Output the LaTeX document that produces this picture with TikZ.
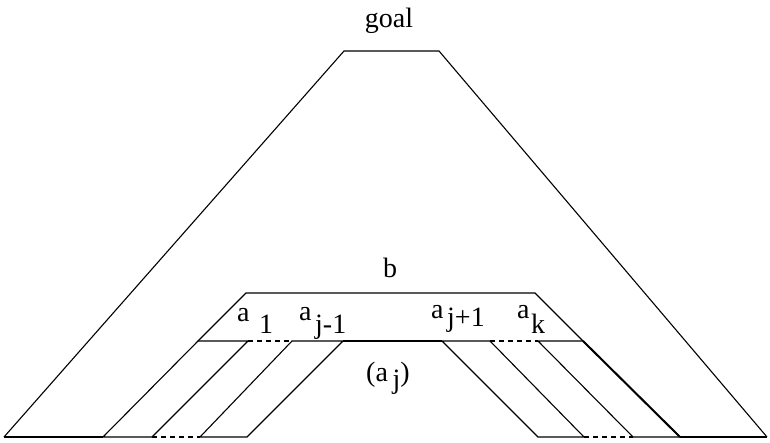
\documentclass[tikz,border=0pt]{standalone}
\usepackage{fontspec}
\setmainfont{Liberation Serif}
\begin{document}
\begin{tikzpicture}[x=1pt,y=-1pt,
  edge/.style={line width=1.1pt, line join=miter},
  dashedge/.style={line width=1.1pt, dash pattern=on 5pt off 4pt},
  boldedge/.style={line width=2pt},
  lbl/.style={inner sep=0pt, anchor=base west, font=\fontsize{28}{33}\selectfont},
  lbla/.style={inner sep=0pt, anchor=base west, font=\fontsize{28}{33}\selectfont}]
\useasboundingbox (0,0) rectangle (770,443);
% outer tree
\coordinate (o1) at (4,437);
\coordinate (o2) at (344,51);
\coordinate (o3) at (439,51);
\coordinate (o4) at (767,437);
\draw[edge] (o1) -- (o2) -- (o3) -- (o4);
% inner subtree b
\coordinate (i1) at (198,341);
\coordinate (i2) at (246,293);
\coordinate (i3) at (535,293);
\coordinate (i4) at (583,341);
\draw[edge] (i1) -- (i2) -- (i3) -- (i4);
% parallelograms
\coordinate (p1a) at (198,341); \coordinate (p1b) at (248,341);
\coordinate (p1c) at (152,437); \coordinate (p1d) at (103,437);
\coordinate (p2a) at (292,341); \coordinate (p2b) at (343,341);
\coordinate (p2c) at (247,437); \coordinate (p2d) at (200,437);
\coordinate (p3a) at (442,341); \coordinate (p3b) at (490,341);
\coordinate (p3c) at (584,437); \coordinate (p3d) at (538,437);
\coordinate (p4a) at (538,341); \coordinate (p4b) at (583,341);
\coordinate (p4c) at (680,437); \coordinate (p4d) at (633,437);
\draw[edge] (p1a) -- (p1b) -- (p1c) -- (p1d) -- cycle;
\draw[edge] (p2a) -- (p2b) -- (p2c) -- (p2d) -- cycle;
\draw[edge] (p3a) -- (p3b) -- (p3c) -- (p3d) -- cycle;
\draw[edge] (p4a) -- (p4b) -- (p4c) -- (p4d) -- cycle;
\draw[boldedge] (p4b) -- (p4c);
% base lines
\draw[edge] (p2b) -- (p3a);
\draw[edge] (o1) -- (p1d);
\draw[edge] (p4c) -- (o4);
\draw[dashedge] (p1b) -- (p2a);
\draw[dashedge] (p3b) -- (p4a);
\draw[dashedge] (p1c) -- (p2d);
\draw[dashedge] (p3c) -- (p4d);
% labels
\node[lbl, anchor=base] (goal) at (389,28) {goal};
\node[lbl, anchor=base] (b) at (390,278) {b};
\node[lbla] (a1) at (237,321) {a};
\node[lbl] (s1) at (259,333) {1};
\node[lbla] (a2) at (299,320) {a};
\node[lbl] (s2) at (315,333) {j-1};
\node[lbla] (a3) at (431,318) {a};
\node[lbl] (s3) at (447,326) {j+1};
\node[lbla] (a4) at (517,318) {a};
\node[lbl] (s4) at (531,333) {k};
\node[lbl] (aj) at (366,381) {(a\raisebox{-7pt}{\,j})};
\end{tikzpicture}
\end{document}
